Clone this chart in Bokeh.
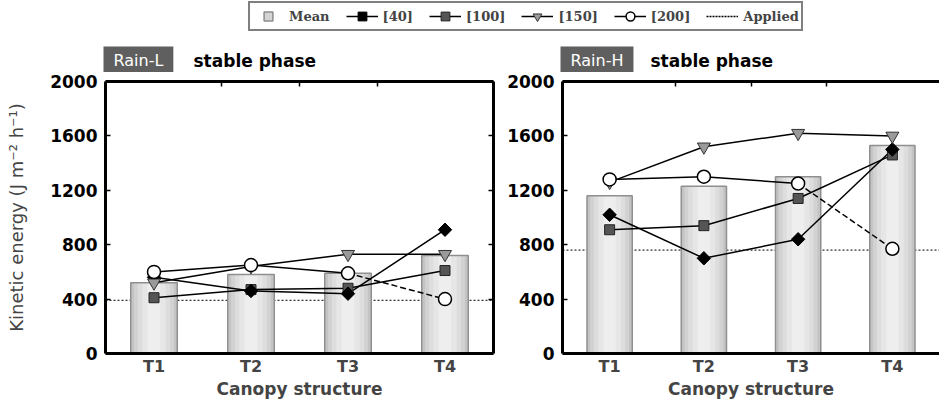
import numpy as np
from bokeh.plotting import figure
from bokeh.models import (ColumnDataSource, FactorRange, Range1d, LinearAxis, CategoricalAxis,
                          FixedTicker, Span, Label, Legend, LegendItem)
from bokeh.layouts import column, row
from bokeh.embed import file_html
from bokeh.resources import INLINE

# Canopy structures on the x axis and kinetic-energy ticks on the y axis
categories = ["T1", "T2", "T3", "T4"]
y_ticks = [0, 400, 800, 1200, 1600, 2000]
series_labels = ["[40]", "[100]", "[150]", "[200]"]

# Rain-L, stable phase (J m-2 h-1)
rain_l_mean = [520, 580, 590, 720]
rain_l_40 = [560, 460, 440, 910]
rain_l_100 = [410, 470, 480, 610]
rain_l_150 = [520, 640, 730, 730]
rain_l_200 = [600, 650, 590, 400]
rain_l_applied = 390

# Rain-H, stable phase (J m-2 h-1)
rain_h_mean = [1160, 1230, 1300, 1530]
rain_h_40 = [1020, 700, 840, 1500]
rain_h_100 = [910, 940, 1140, 1460]
rain_h_150 = [1260, 1520, 1620, 1600]
rain_h_200 = [1280, 1300, 1250, 770]
rain_h_applied = 760

SANS = "DejaVu Sans"
SERIF = "DejaVu Serif"

MARKERS = {
    "[40]": dict(marker="square", size=9.5, angle=np.pi / 4, fill_color="black",
                 line_color="black", line_width=1),
    "[100]": dict(marker="square", size=10, fill_color="#555555", line_color="#222222",
                  line_width=1),
    "[150]": dict(marker="inverted_triangle", size=13, fill_color="#9a9a9a",
                  line_color="#333333", line_width=1),
    "[200]": dict(marker="circle", size=13, fill_color="white", line_color="black",
                  line_width=1.5),
}
MARKER_ORDER = ["[100]", "[40]", "[150]", "[200]"]

# bar shading: outer to inner strips give a cylinder-like look
BAR_STRIPS = [(0.48, "#c4c4c4"), (0.41, "#d2d2d2"), (0.33, "#dddddd"),
              (0.24, "#e6e6e6"), (0.13, "#eeeeee")]

# boundaries between neighbouring canopy structures (top-edge ticks)
boundaries = [f"{a}|{b}" for a, b in zip(categories, categories[1:])]

TOP_H = 72      # strip holding the legend and the panel headings
PANEL_H = 401 - TOP_H


def make_panel(mean, series, applied, width, border_left, border_right,
               y_label=None, right_axis=False):
    p = figure(width=width, height=PANEL_H, x_range=FactorRange(*categories),
               y_range=Range1d(0, 2000), output_backend="svg", toolbar_location=None,
               x_axis_location=None, y_axis_location=None,
               min_border_left=border_left, min_border_right=border_right,
               min_border_top=9, min_border_bottom=48)
    p.outline_line_color = None
    p.grid.visible = False
    p.background_fill_color = "white"
    p.extra_x_ranges = {"edges": FactorRange(*boundaries, range_padding=1,
                                             range_padding_units="absolute")}

    # applied kinetic energy, drawn beneath the bars
    p.add_layout(Span(location=applied, dimension="width", line_color="#333333",
                      line_width=1.2, line_dash="2 2", level="underlay"))

    src = ColumnDataSource(dict(cat=categories, mean=mean,
                                **{name: vals for name, vals in series.items()}))
    for w, c in BAR_STRIPS:
        p.vbar(x="cat", top="mean", width=w, source=src, fill_color=c, line_color=None)
    p.vbar(x="cat", top="mean", width=BAR_STRIPS[0][0], source=src, fill_color=None,
           line_color="#8f8f8f", line_width=1.5)

    for name in series_labels:
        vals = series[name]
        if name == "[200]":
            solid = ColumnDataSource(dict(cat=categories[:3], v=vals[:3]))
            dashed = ColumnDataSource(dict(cat=categories[2:], v=vals[2:]))
            p.line("cat", "v", source=solid, line_color="black", line_width=1.5)
            p.line("cat", "v", source=dashed, line_color="black", line_width=1.5,
                   line_dash="6 3")
        else:
            p.line("cat", name, source=src, line_color="black", line_width=1.5)
    for name in MARKER_ORDER:
        p.scatter("cat", name, source=src, **MARKERS[name])

    axis_style = dict(axis_line_width=3, axis_line_color="black",
                      major_tick_line_color="black", major_tick_line_width=1.5,
                      major_tick_in=5, major_tick_out=0, minor_tick_line_color=None,
                      minor_tick_in=0, minor_tick_out=0)
    hidden_labels = dict(major_label_text_font_size="1px", major_label_text_color=None,
                         major_label_standoff=0)

    yax = LinearAxis(ticker=FixedTicker(ticks=y_ticks), major_label_standoff=8,
                     major_label_text_font=SANS, major_label_text_font_style="bold",
                     major_label_text_font_size="17px", major_label_text_color="black",
                     **axis_style)
    if y_label:
        yax.axis_label = y_label
        yax.axis_label_text_font = SANS
        yax.axis_label_text_font_size = "18px"
        yax.axis_label_text_font_style = "normal"
        yax.axis_label_standoff = 20
    p.add_layout(yax, "left")

    xax = CategoricalAxis(axis_label="Canopy structure", axis_line_width=3,
                          axis_line_color="black", major_tick_line_color=None,
                          major_tick_in=0, major_tick_out=0,
                          minor_tick_line_color=None, minor_tick_in=0, minor_tick_out=0,
                          major_label_standoff=3,
                          major_label_text_font=SANS, major_label_text_font_style="bold",
                          major_label_text_font_size="16px",
                          axis_label_text_font=SANS, axis_label_text_font_size="17px",
                          axis_label_text_font_style="bold", axis_label_standoff=0)
    p.add_layout(xax, "below")

    top = CategoricalAxis(x_range_name="edges", **hidden_labels, **axis_style)
    p.add_layout(top, "above")

    if right_axis:
        rax = LinearAxis(ticker=FixedTicker(ticks=y_ticks), **hidden_labels, **axis_style)
        p.add_layout(rax, "right")
    return p


left = make_panel(rain_l_mean,
                  {"[40]": rain_l_40, "[100]": rain_l_100, "[150]": rain_l_150,
                   "[200]": rain_l_200},
                  rain_l_applied, width=500, border_left=105, border_right=7,
                  y_label="Kinetic energy (J m\u207b\u00b2 h\u207b\u00b9)", right_axis=True)
right = make_panel(rain_h_mean,
                   {"[40]": rain_h_40, "[100]": rain_h_100, "[150]": rain_h_150,
                    "[200]": rain_h_200},
                   rain_h_applied, width=439, border_left=62, border_right=0)

# shared strip above both panels: legend and the two panel headings
lg = figure(width=939, height=TOP_H, x_range=Range1d(0, 1), y_range=Range1d(0, 1),
            output_backend="svg", toolbar_location=None, x_axis_location=None,
            y_axis_location=None, min_border=0)
lg.outline_line_color = None
lg.grid.visible = False
# legend proxies sit outside the visible range; only their legend glyphs show
proxy = ColumnDataSource(dict(x=[-5], y=[-5]))
items = []
r_mean = lg.scatter("x", "y", source=proxy, marker="square", size=15,
                    fill_color="#d4d4d4", line_color="#8c8c8c", line_width=1.5)
items.append(LegendItem(label="Mean", renderers=[r_mean]))
for name in series_labels:
    rl = lg.line("x", "y", source=proxy, line_color="black", line_width=1.5)
    rm = lg.scatter("x", "y", source=proxy, **MARKERS[name])
    items.append(LegendItem(label=name, renderers=[rl, rm]))
r_app = lg.line("x", "y", source=proxy, line_color="black", line_width=1.3, line_dash="2 1")
items.append(LegendItem(label="Applied", renderers=[r_app]))
legend = Legend(items=items, orientation="horizontal", location=(248, TOP_H - 31),
                glyph_width=32, glyph_height=22, label_standoff=5, spacing=16, padding=2,
                margin=0, label_height=16, label_text_font=SERIF, label_text_font_style="bold",
                label_text_font_size="13px", border_line_color="black", border_line_width=2,
                background_fill_color="white")
lg.add_layout(legend, "center")

for tag, x0 in [("Rain-L", 103), ("Rain-H", 560)]:
    lg.add_layout(Label(x=x0, y=TOP_H - 73, x_units="screen", y_units="screen", text=tag,
                        text_color="white", text_font=SANS, text_font_size="16px",
                        text_align="left", text_baseline="bottom",
                        background_fill_color="#5f5f5f", padding=(10, 4)))
    lg.add_layout(Label(x=x0 + 90, y=TOP_H - 70, x_units="screen", y_units="screen",
                        text="stable phase", text_color="black", text_font=SANS,
                        text_font_size="17px", text_font_style="bold", text_align="left",
                        text_baseline="bottom"))

layout = column(lg, row(left, right, spacing=0), spacing=0)
open("out.html", "w").write(file_html(layout, INLINE))
